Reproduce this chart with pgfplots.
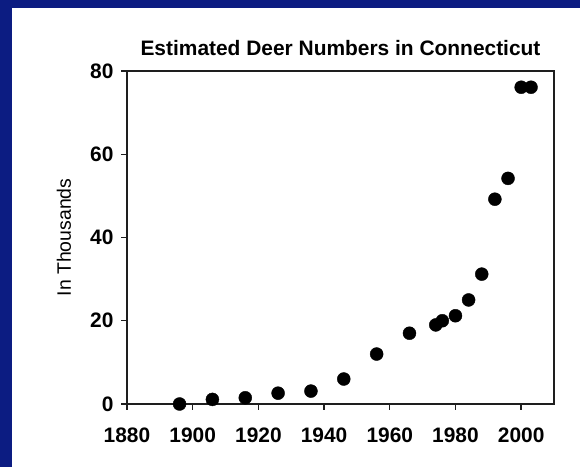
\documentclass[border=0pt]{standalone}
\usepackage{fontspec}
\setmainfont{Liberation Sans}
\usepackage{pgfplots}
\pgfplotsset{compat=1.18}
\definecolor{frameblue}{RGB}{12,28,130}
\definecolor{axisgray}{RGB}{30,30,30}
\begin{document}
\begin{tikzpicture}[x=1bp,y=1bp]
\useasboundingbox (0,0) rectangle (580,467);
\fill[white] (0,0) rectangle (580,467);
\fill[frameblue] (0,0) rectangle (12,467);
\fill[frameblue] (0,459) rectangle (580,467);
\begin{axis}[
  at={(127bp,63bp)}, anchor=south west,
  scale only axis, width=427bp, height=333bp,
  xmin=1880, xmax=2010, ymin=0, ymax=80,
  xtick={1880,1900,...,2000}, ytick={0,20,...,80},
  axis line style={axisgray, line width=1.6pt},
  tick style={axisgray, line width=1.4pt},
  tick align=outside, major tick length=6bp,
  xtick pos=bottom, ytick pos=left,
  /pgf/number format/assume math mode=true,
  /pgf/number format/1000 sep={},
  ticklabel style={font=\fontsize{21}{24}\selectfont\bfseries},
  xticklabel style={yshift=-14bp},
  yticklabel style={xshift=-4bp},
  title={Estimated Deer Numbers in Connecticut},
  title style={font=\fontsize{21}{24}\selectfont\bfseries, at={(0.5,1)}, anchor=base, yshift=10bp},
  ylabel={In Thousands},
  ylabel style={font=\fontsize{19.5}{22}\selectfont, at={(axis description cs:0,0.5)}, anchor=center, yshift=63bp},
  clip=false,
]
\addplot[only marks, mark=*, mark size=6.5bp, black] coordinates {
(1896,0) (1906,1.1) (1916,1.5) (1926,2.6) (1936,3.1) (1946,6)
(1956,12) (1966,17) (1974,19) (1976,20) (1980,21.2) (1984,25)
(1988,31.2) (1992,49.2) (1996,54.2) (2000,76.1) (2003,76.1)
};
\end{axis}
\end{tikzpicture}
\end{document}
